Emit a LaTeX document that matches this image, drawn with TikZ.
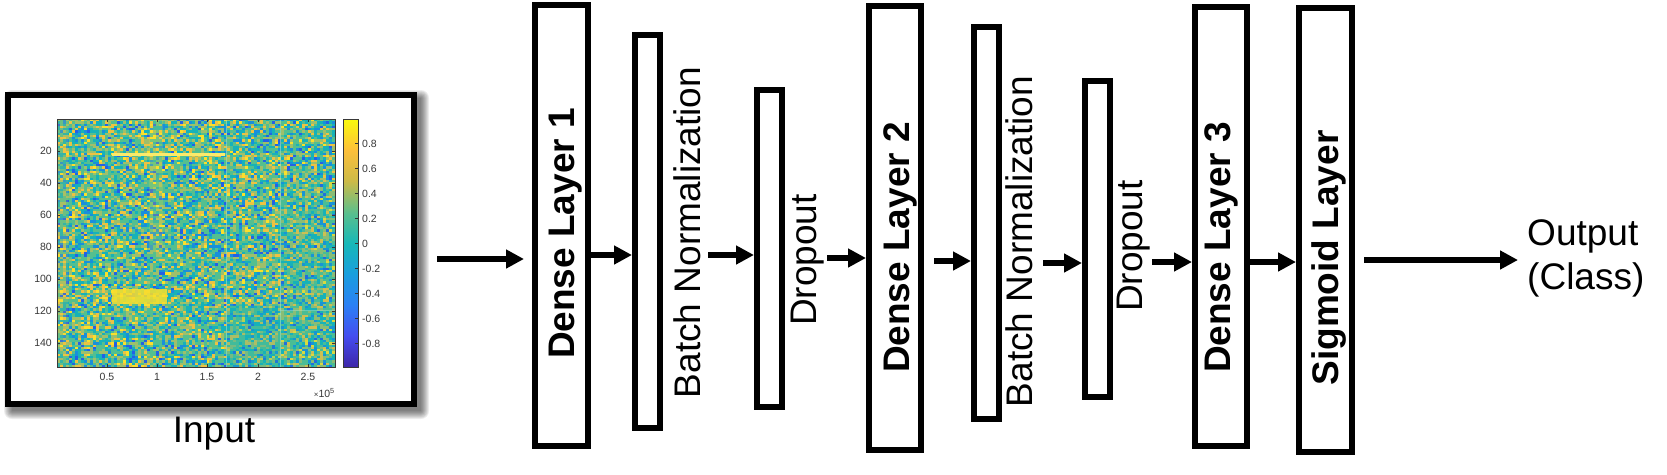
\documentclass[tikz,border=0pt]{standalone}
\usepackage{fontspec}
\setmainfont{Liberation Sans}
\usetikzlibrary{arrows.meta}
% heat map palette (parula-like)
\definecolor{hmT}{rgb}{0.09,0.70,0.72}
\definecolor{hmG}{rgb}{0.33,0.75,0.56}
\definecolor{hmYG}{rgb}{0.62,0.75,0.42}
\definecolor{hmY}{rgb}{0.93,0.76,0.26}
\definecolor{hmBY}{rgb}{0.98,0.88,0.17}
\definecolor{hmLB}{rgb}{0.10,0.56,0.86}
\definecolor{hmB}{rgb}{0.14,0.38,0.90}
\colorlet{hm0}{hmT}\colorlet{hm1}{hmT}\colorlet{hm2}{hmT}\colorlet{hm3}{hmT}
\colorlet{hm4}{hmG}\colorlet{hm5}{hmG}\colorlet{hm6}{hmG}\colorlet{hm7}{hmG}\colorlet{hm8}{hmG}\colorlet{hm9}{hmG}
\colorlet{hm10}{hmYG}\colorlet{hm11}{hmYG}\colorlet{hm12}{hmYG}\colorlet{hm13}{hmYG}
\colorlet{hm14}{hmY}\colorlet{hm15}{hmY}
\colorlet{hm16}{hmBY}
\colorlet{hm17}{hmLB}\colorlet{hm18}{hmLB}
\colorlet{hm19}{hmB}
% colour bar stops
\definecolor{cb0}{rgb}{0.24,0.15,0.66}
\definecolor{cb1}{rgb}{0.27,0.30,0.94}
\definecolor{cb2}{rgb}{0.17,0.50,0.96}
\definecolor{cb3}{rgb}{0.10,0.62,0.87}
\definecolor{cb4}{rgb}{0.09,0.72,0.72}
\definecolor{cb5}{rgb}{0.36,0.75,0.55}
\definecolor{cb6}{rgb}{0.80,0.73,0.28}
\definecolor{cb7}{rgb}{0.99,0.75,0.23}
\definecolor{cb8}{rgb}{0.98,0.98,0.05}
\definecolor{axgray}{rgb}{0.22,0.22,0.22}
\begin{document}
\begin{tikzpicture}[x=1pt,y=-1pt,
  lbox/.style={draw=black, line width=6pt, fill=white, inner sep=0pt},
  lbl/.style={rotate=90, anchor=base, inner sep=0pt, font=\fontsize{37}{44}\selectfont},
  blbl/.style={rotate=90, anchor=base, inner sep=0pt, font=\fontsize{37}{44}\selectfont\bfseries},
  arr/.style={line width=6pt, -{Triangle[length=18pt,width=18pt]}},
  ticklab/.style={font=\fontsize{10.5}{12}\selectfont, text=axgray, inner sep=0pt},
  axline/.style={draw=axgray, line width=0.6pt},
]
\useasboundingbox (0,0) rectangle (1667,474);
\fill[white] (0,0) rectangle (1667,474);

% ---------- input picture: shadow and frame ----------
\foreach \k in {0,...,8}{
  \fill[black, opacity=0.07, rounded corners=\k pt] ({12-\k},{98-\k}) rectangle ({421+\k},{411+\k});
}
\node[lbox, minimum width=406pt, minimum height=309pt] (inp) at (210.5,249) {};

% ---------- heat map ----------
\pgfmathsetseed{11}
\foreach \i in {0,...,92}{
  \foreach \j in {0,...,109}{
    \pgfmathrandominteger{\rc}{0}{19}
    \fill[hm\rc] ({57+\i*2.99},{119+\j*2.255}) rectangle ++(3.1,2.35);
  }
}
\fill[hmBY, opacity=0.2] (149,119) rectangle (163,250);
\fill[hmY, opacity=0.15] (57,119) rectangle (68,367);
\fill[hmT, opacity=0.3] (226,305) rectangle (280,367);
\fill[hmT, opacity=0.15] (280,180) rectangle (335,367);
\draw[hmG!60!white, line width=0.8pt, opacity=0.7] (226,119) -- (226,367);
\draw[hmG!60!white, line width=0.8pt, opacity=0.7] (280,119) -- (280,367);
\draw[hmG!60!white, line width=0.8pt, opacity=0.6] (280,310) -- (335,310);
\fill[hmBY!70!white] (112,153) rectangle (225,155.5);
\fill[hmBY, opacity=0.85] (112,289) rectangle (167,304);
\draw[axline] (57,119) rectangle (335,367);
% axis ticks
\foreach \k in {0,...,6}{
  \draw[axline] (57,{151+32*\k}) -- (60,{151+32*\k});
  \draw[axline] (335,{151+32*\k}) -- (332,{151+32*\k});
}
\foreach \xx in {107,157,207,258,308}{
  \draw[axline] (\xx,367) -- (\xx,364);
  \draw[axline] (\xx,119) -- (\xx,122);
}
% axis labels
\foreach \v [count=\k from 0] in {20,40,60,80,100,120,140}
  \node[ticklab, anchor=east] (yl\k) at (52,{151+32*\k}) {\v};
\foreach \v/\xx [count=\k] in {0.5/107,1/157,1.5/207,2/258,2.5/308}
  \node[ticklab] (xl\k) at (\xx,377) {\v};
\node[ticklab, anchor=east] (xexp) at (335,393) {{\fontsize{8}{8}\selectfont ×}10\textsuperscript{5}};

% colour bar
\shade[bottom color=cb0, top color=cb1] (343,367) rectangle (358,336);
\shade[bottom color=cb1, top color=cb2] (343,336.5) rectangle (358,305);
\shade[bottom color=cb2, top color=cb3] (343,305.5) rectangle (358,274);
\shade[bottom color=cb3, top color=cb4] (343,274.5) rectangle (358,243);
\shade[bottom color=cb4, top color=cb5] (343,243.5) rectangle (358,212);
\shade[bottom color=cb5, top color=cb6] (343,212.5) rectangle (358,181);
\shade[bottom color=cb6, top color=cb7] (343,181.5) rectangle (358,150);
\shade[bottom color=cb7, top color=cb8] (343,150.5) rectangle (358,119);
\draw[axline] (343,119) rectangle (358,367);
\foreach \v [count=\k from 0] in {0.8,0.6,0.4,0.2,0,-0.2,-0.4,-0.6,-0.8}{
  \draw[axline] (358,{143.5+25*\k}) -- (355,{143.5+25*\k});
  \node[ticklab, anchor=west] (cl\k) at (362,{143.5+25*\k}) {\v};
}

\node[anchor=base, inner sep=0pt, font=\fontsize{37}{44}\selectfont] (inlab) at (214,442) {Input};

% ---------- layers ----------
\node[lbox, minimum width=53pt, minimum height=441pt] (d1) at (561.5,225.5) {};
\node[lbox, minimum width=25pt, minimum height=393pt] (bn1) at (647.5,231.5) {};
\node[lbox, minimum width=25pt, minimum height=317pt] (do1) at (769.5,248.5) {};
\node[lbox, minimum width=52pt, minimum height=444pt] (d2) at (895,228) {};
\node[lbox, minimum width=25pt, minimum height=392pt] (bn2) at (986.5,223) {};
\node[lbox, minimum width=25pt, minimum height=316pt] (do2) at (1097.5,239) {};
\node[lbox, minimum width=52pt, minimum height=439pt] (d3) at (1221,226.5) {};
\node[lbox, minimum width=53pt, minimum height=444pt] (sg) at (1325.5,230) {};

\node[blbl] (d1t) at (574,233.5) {Dense Layer 1};
\node[lbl] (bn1t) at (700,232.5) {Batch Normalization};
\node[lbl] (do1t) at (816,260) {Dropout};
\node[blbl] (d2t) at (909,247.5) {Dense Layer 2};
\node[lbl] (bn2t) at (1032,241.5) {Batch Normalization};
\node[lbl] (do2t) at (1142,246) {Dropout};
\node[blbl] (d3t) at (1230,247.5) {Dense Layer 3};
\node[blbl] (sgt) at (1338,258) {Sigmoid Layer};

\node[anchor=north west, align=left, inner sep=0pt, font=\fontsize{37}{44}\selectfont] (out) at (1527,219) {Output\\(Class)};

% ---------- arrows ----------
\coordinate (a1s) at (437,259);
\coordinate (y2) at (0,255);
\coordinate (a3s) at (708,255);
\coordinate (a4s) at (827,258);
\coordinate (y5) at (0,261);
\coordinate (a6s) at (1043,263);
\coordinate (a7s) at (1152,262);
\coordinate (y8) at (0,262);
\coordinate (y9) at (0,260);
\draw[arr, shorten >=8pt] (a1s) -- (d1.west |- a1s);
\draw[arr] (d1.east |- y2) -- (bn1.west |- y2);
\draw[arr] (a3s) -- (do1.west |- a3s);
\draw[arr] (a4s) -- (d2.west |- a4s);
\draw[arr, shorten <=10pt] (d2.east |- y5) -- (bn2.west |- y5);
\draw[arr] (a6s) -- (do2.west |- a6s);
\draw[arr] (a7s) -- (d3.west |- a7s);
\draw[arr] (d3.east |- y8) -- (sg.west |- y8);
\draw[arr, shorten <=9pt, shorten >=9pt] (sg.east |- y9) -- (out.west |- y9);
\end{tikzpicture}
\end{document}
